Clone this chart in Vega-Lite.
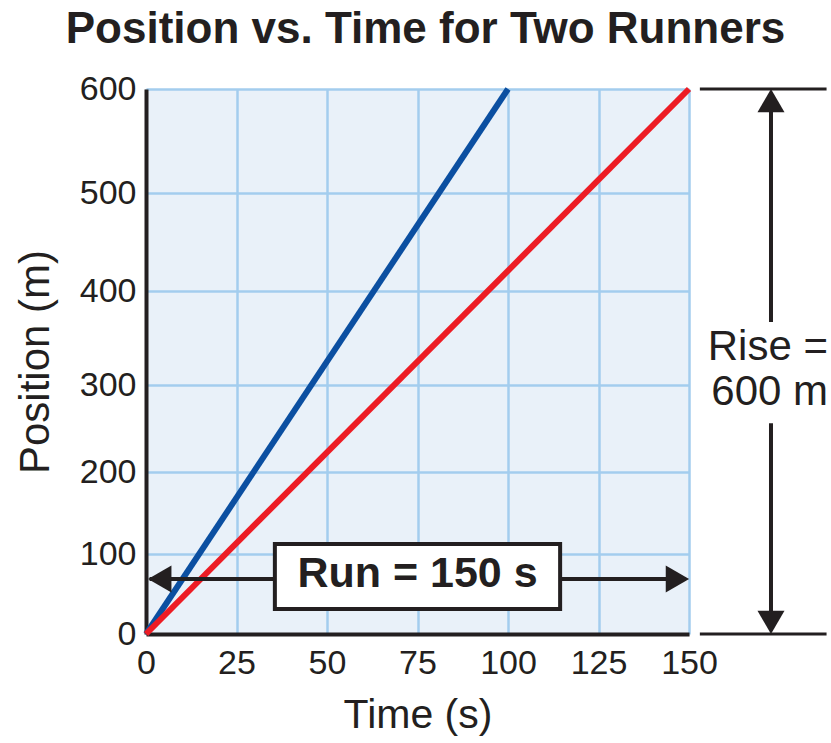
{
  "$schema": "https://vega.github.io/schema/vega-lite/v6.json",
  "width": 543,
  "height": 545,
  "autosize": "none",
  "padding": {"left": 146, "top": 89, "right": 142, "bottom": 109},
  "background": "white",
  "title": {
    "text": "Position vs. Time for Two Runners",
    "font": "Liberation Sans",
    "fontSize": 44,
    "fontWeight": "bold",
    "color": "#231f20",
    "anchor": "middle",
    "offset": 20,
    "dx": 8
  },
  "config": {
    "view": {"fill": "#e9f1f9", "stroke": null},
    "font": "Liberation Sans"
  },
  "layer": [
    {
      "data": {"values": [
        {"runner": "Runner 1", "t": 0, "pos": 0},
        {"runner": "Runner 1", "t": 100, "pos": 600},
        {"runner": "Runner 2", "t": 0, "pos": 0},
        {"runner": "Runner 2", "t": 150, "pos": 600}
      ]},
      "mark": {"type": "line", "strokeWidth": 6},
      "encoding": {
        "x": {
          "field": "t", "type": "quantitative",
          "scale": {"domain": [0, 150], "nice": false, "zero": false},
          "axis": {
            "values": [0, 25, 50, 75, 100, 125, 150],
            "title": "Time (s)",
            "titleFontSize": 41, "titleFontWeight": "normal", "titleColor": "#231f20",
            "titlePadding": 15,
            "labelFontSize": 34, "labelColor": "#231f20", "labelFlush": false,
            "labelPadding": 12,
            "ticks": false, "tickSize": 0,
            "domainColor": "#231f20", "domainWidth": 4,
            "grid": true, "gridColor": "#a3cdee", "gridWidth": 2.5, "gridOpacity": 1
          }
        },
        "y": {
          "field": "pos", "type": "quantitative",
          "scale": {"domain": [0, 100, 200, 300, 400, 500, 600], "range": [545, 465, 383, 296, 202, 104, 0], "nice": false, "zero": false},
          "axis": {
            "values": [0, 100, 200, 300, 400, 500, 600],
            "title": "Position (m)",
            "titleFontSize": 42, "titleFontWeight": "normal", "titleColor": "#231f20",
            "titlePadding": 22,
            "labelFontSize": 34, "labelColor": "#231f20",
            "labelPadding": 10, "labelFlush": false,
            "ticks": false, "tickSize": 0,
            "domainColor": "#231f20", "domainWidth": 4,
            "grid": true, "gridColor": "#a3cdee", "gridWidth": 2.5, "gridOpacity": 1
          }
        },
        "color": {
          "field": "runner", "type": "nominal",
          "scale": {"domain": ["Runner 1", "Runner 2"], "range": ["#0b4fa1", "#ed1c24"]},
          "legend": null
        }
      }
    },
    {
      "data": {"values": [{"t": 1, "t2": 149, "pos": 68.75}]},
      "mark": {"type": "rule", "color": "#231f20", "strokeWidth": 4},
      "encoding": {
        "x": {"field": "t", "type": "quantitative"},
        "x2": {"field": "t2"},
        "y": {"field": "pos", "type": "quantitative"}
      }
    },
    {
      "data": {"values": [
        {"t": 153, "t2": 188, "pos": 600},
        {"t": 153, "t2": 188, "pos": 0}
      ]},
      "mark": {"type": "rule", "color": "#231f20", "strokeWidth": 3},
      "encoding": {
        "x": {"field": "t", "type": "quantitative"},
        "x2": {"field": "t2"},
        "y": {"field": "pos", "type": "quantitative"}
      }
    },
    {
      "data": {"values": [
        {"t": 172.65, "pos": 590, "pos2": 367},
        {"t": 172.65, "pos": 256, "pos2": 10}
      ]},
      "mark": {"type": "rule", "color": "#231f20", "strokeWidth": 4},
      "encoding": {
        "x": {"field": "t", "type": "quantitative"},
        "y": {"field": "pos", "type": "quantitative"},
        "y2": {"field": "pos2"}
      }
    },
    {
      "data": {"values": [
        {"t": 3.8, "pos": 68.75, "dir": "left"},
        {"t": 146.8, "pos": 68.75, "dir": "right"},
        {"t": 172.65, "pos": 588.8, "dir": "up"},
        {"t": 172.65, "pos": 14.6, "dir": "down"}
      ]},
      "mark": {"type": "point", "filled": true, "size": 729, "color": "#231f20", "opacity": 1},
      "encoding": {
        "x": {"field": "t", "type": "quantitative"},
        "y": {"field": "pos", "type": "quantitative"},
        "shape": {
          "field": "dir", "type": "nominal",
          "scale": {"domain": ["left", "right", "up", "down"], "range": ["triangle-left", "triangle-right", "triangle-up", "triangle-down"]},
          "legend": null
        }
      }
    },
    {
      "data": {"values": [{"t": 35.6, "t2": 114.4, "pos": 112.2, "pos2": 31.25}]},
      "mark": {"type": "rect", "fill": "white", "stroke": "#231f20", "strokeWidth": 4},
      "encoding": {
        "x": {"field": "t", "type": "quantitative"},
        "x2": {"field": "t2"},
        "y": {"field": "pos", "type": "quantitative"},
        "y2": {"field": "pos2"}
      }
    },
    {
      "data": {"values": [{"t": 75, "pos": 75, "label": "Run = 150 s"}]},
      "mark": {"type": "text", "font": "Liberation Sans", "fontSize": 43, "fontWeight": "bold", "color": "#231f20", "align": "center", "baseline": "middle"},
      "encoding": {
        "x": {"field": "t", "type": "quantitative"},
        "y": {"field": "pos", "type": "quantitative"},
        "text": {"field": "label"}
      }
    },
    {
      "data": {"values": [
        {"t": 188.4, "pos": 340, "label": "Rise ="},
        {"t": 188.4, "pos": 292, "label": "600 m"}
      ]},
      "mark": {"type": "text", "font": "Liberation Sans", "fontSize": 42, "color": "#231f20", "align": "right", "baseline": "middle"},
      "encoding": {
        "x": {"field": "t", "type": "quantitative"},
        "y": {"field": "pos", "type": "quantitative"},
        "text": {"field": "label"}
      }
    }
  ]
}
